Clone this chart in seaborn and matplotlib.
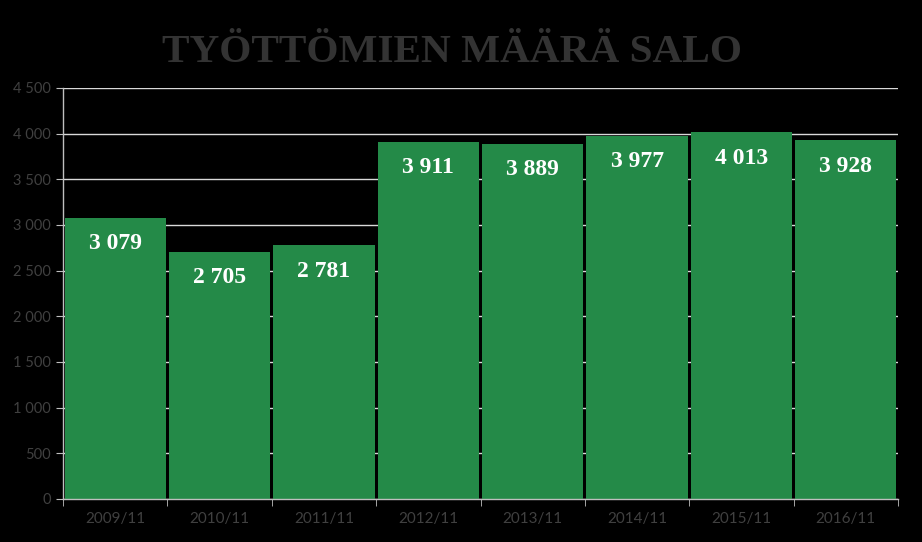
import matplotlib
matplotlib.use("Agg")
import matplotlib.pyplot as plt
import seaborn as sns
import pandas as pd
import numpy as np

categories = ["2009/11", "2010/11", "2011/11", "2012/11", "2013/11", "2014/11", "2015/11", "2016/11"]
values = [3079, 2705, 2781, 3911, 3889, 3977, 4013, 3928]
yticks = [0, 500, 1000, 1500, 2000, 2500, 3000, 3500, 4000, 4500]
title = "TYÖTTÖMIEN MÄÄRÄ SALO"

def fmt(v):
    return f"{v:,}".replace(",", " ")

sns.set_style("dark")
plt.rcParams["font.family"] = ["Lato", "DejaVu Sans"]

df = pd.DataFrame({"cat": categories, "val": values})

fig = plt.figure(figsize=(9.22, 5.42), dpi=100, facecolor="black")
ax = fig.add_axes([63/922, 1-499/542, (898-63)/922, (499-88)/542])
ax.set_facecolor("black")

sns.barplot(data=df, x="cat", y="val", color="#248A48", saturation=1, width=0.97,
            edgecolor="none", linewidth=0, ax=ax, zorder=3)

ax.set_ylim(0, 4500)
ax.set_xlim(-0.5, len(categories)-0.5)
ax.set_yticks(yticks)
ax.set_yticklabels([fmt(t) for t in yticks])
ax.yaxis.grid(True, color="#D9D9D9", linewidth=1, zorder=0)
ax.xaxis.grid(False)
ax.set_axisbelow(True)
ax.set_xlabel("")
ax.set_ylabel("")

for s in ["top", "right"]:
    ax.spines[s].set_visible(False)
for s in ["left", "bottom"]:
    ax.spines[s].set_visible(True)
    ax.spines[s].set_color("#BFBFBF")
    ax.spines[s].set_linewidth(1)
    ax.spines[s].set_zorder(4)

ax.tick_params(axis="y", which="major", length=5, color="#BFBFBF", labelcolor="#404040", labelsize=10.5, left=True, direction="out")
ax.tick_params(axis="x", which="major", length=0, labelcolor="#404040", labelsize=11, pad=9)
ax.set_xticks(np.arange(-0.5, len(categories)), minor=True)
ax.tick_params(axis="x", which="minor", length=5, color="#BFBFBF", bottom=True, direction="out")

for i, v in enumerate(values):
    ax.annotate(fmt(v), xy=(i, v), xytext=(0, -26), textcoords="offset pixels",
                ha="center", va="center", color="white", fontsize=17, fontweight="bold",
                family=["Liberation Serif", "DejaVu Serif"], zorder=5)

fig.text(452/922, 1-52/542, title, ha="center", va="center", color="#333333", fontsize=29.7,
         fontweight="bold", family=["Liberation Serif", "DejaVu Serif"])

fig.savefig("out.png", dpi=100, facecolor="black")
